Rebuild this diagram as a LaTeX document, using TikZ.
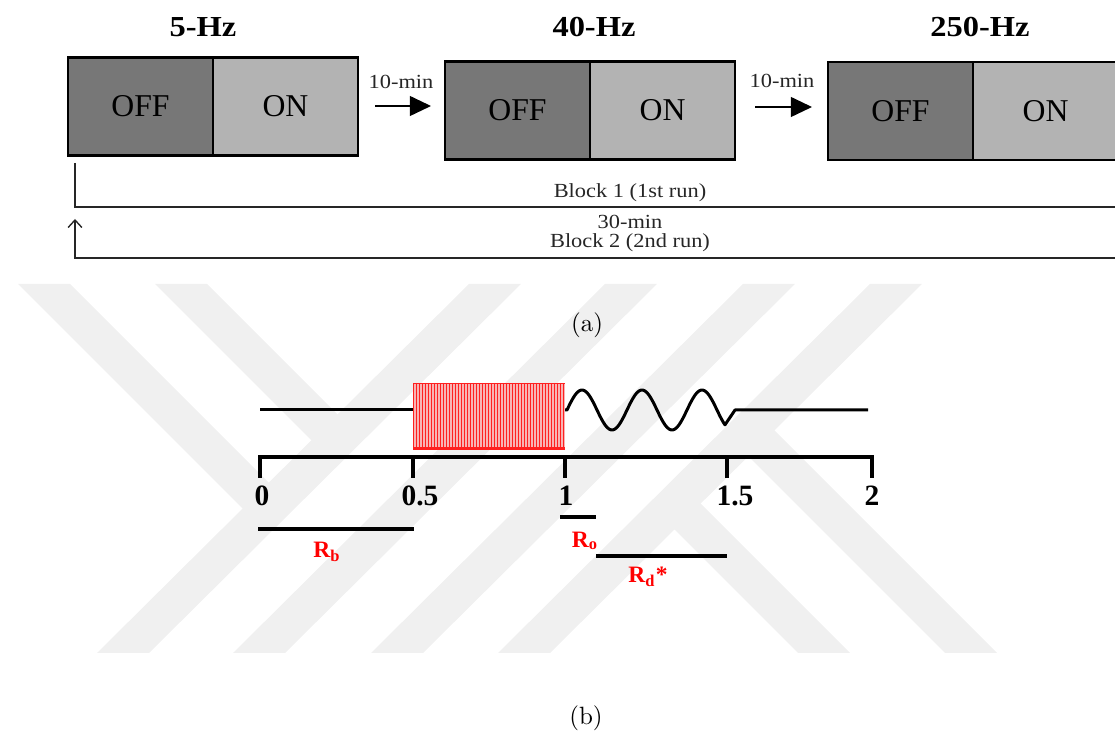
\documentclass[tikz,border=0pt]{standalone}
\usepackage{fontspec}
\newfontfamily\timesfont{Liberation Serif}
\newfontfamily\widetimes{Liberation Serif}[FakeStretch=1.12]
\usetikzlibrary{arrows.meta,positioning}

\definecolor{offgray}{HTML}{777777}
\definecolor{ongray}{HTML}{B3B3B3}
\definecolor{pulsered}{HTML}{FF2020}
\definecolor{pulsepink}{HTML}{F8B4B4}

\tikzset{
    offbox/.style={draw=black, line width=1.1pt, fill=offgray, inner sep=0pt, outer sep=0pt,
        minimum width=58pt, minimum height=39.2pt, font=\timesfont\fontsize{12.7}{14}\selectfont},
    onbox/.style={offbox, fill=ongray},
    hztitle/.style={font=\widetimes\bfseries\fontsize{11.6}{13}\selectfont},
    smalltxt/.style={text=black!85, inner sep=1pt, font=\widetimes\fontsize{8}{9}\selectfont},
    steparrow/.style={line width=0.6pt, -{Triangle[length=8.5pt,width=8pt]}},
    runline/.style={draw=black!85, line width=0.55pt},
    sig/.style={line width=1.2pt, line join=round},
    pulse/.style={draw=pulsered, line width=0.35pt},
    axisline/.style={line width=1.6pt},
    rbar/.style={line width=1.6pt},
    ticklbl/.style={anchor=north, inner sep=1pt, font=\timesfont\bfseries\fontsize{11.8}{13}\selectfont},
    rlbl/.style={text=red, inner sep=1pt, font=\timesfont\bfseries\fontsize{9.4}{11}\selectfont},
    wmark/.style={fill=black!6, draw=none},
    caplbl/.style={font=\fontsize{10}{12}\selectfont}
}

\begin{document}
\begin{tikzpicture}[x=0.4pt, y=-0.4pt]
    % --- canvas ---
    \useasboundingbox (0,0) rectangle (1115,731);
    \clip (0,0) rectangle (1115,731);

    % --- watermark in the background ---
    % long slanted bands
    \foreach \bl in {97,233,371,498}
        \fill[wmark] (\bl,653) -- ({\bl+52},653) -- ({\bl+424},284) -- ({\bl+372},284) -- cycle;
    % short bands, upper left
    \fill[wmark] (18,284) -- (70,284) -- (269.5,483.5) -- (243.5,509.5) -- cycle;
    \fill[wmark] (155,284) -- (207,284) -- (338,415) -- (312,441) -- cycle;
    % short bands, lower right
    \fill[wmark] (798,653) -- (850,653) -- (700,503) -- (674,529) -- cycle;
    \fill[wmark] (945,653) -- (997,653) -- (773.5,429.5) -- (747.5,455.5) -- cycle;

    % --- (a) OFF/ON blocks ---
    \node[offbox] (off1) at (140.5,106.5) {OFF};
    \node[onbox, right=0pt of off1] (on1) {ON};
    \node[offbox] (off2) at (517.5,110.5) {OFF};
    \node[onbox, right=0pt of off2] (on2) {ON};
    \node[offbox] (off3) at (900.5,111) {OFF};
    \node[onbox, right=0pt of off3] (on3) {ON};

    % frequency titles
    \node[hztitle] (hz1) at (203,27) {5-Hz};
    \node[hztitle] (hz2) at (594,27) {40-Hz};
    \node[hztitle] (hz3) at (980,27) {250-Hz};

    % 10-min pauses between the blocks
    \coordinate (gap1a) at (375,106);
    \coordinate (gap1b) at (431,106);
    \draw[steparrow] (gap1a) -- (gap1b);
    \node[smalltxt] (min1) at (401,82) {10-min};
    \coordinate (gap2a) at (755,107);
    \coordinate (gap2b) at (812,107);
    \draw[steparrow] (gap2a) -- (gap2b);
    \node[smalltxt] (min2) at (782,81) {10-min};

    % --- runs ---
    % Block 1
    \coordinate (run1a) at (75,163);
    \coordinate (run1b) at (75,207);
    \coordinate (run1c) at (1115,207);
    \draw[runline] (run1a) -- (run1b) -- (run1c);
    % Block 2, back to the start
    \coordinate (run2a) at (1115,258);
    \coordinate (run2b) at (75,258);
    \coordinate (run2c) at (75,219);
    \draw[runline, -{Straight Barb[length=3pt,width=5.5pt]}] (run2a) -- (run2b) -- (run2c);
    \node[smalltxt] (run1) at (630,193) {Block 1 (1st run)};
    \node[smalltxt] (rest) at (630,222) {30-min};
    \node[smalltxt] (run2) at (630,243) {Block 2 (2nd run)};

    \node[caplbl] (capa) at (587,325) {(a)};

    % --- (b) stimulus trace ---
    % baseline before the pulse train
    \draw[sig] (260,410) -- (413,410);
    % pulse train
    \fill[pulsepink] (413,383) rectangle (565,449);
    \foreach \i in {0,...,50}
        \draw[pulse] ({413+3*\i},383) -- ({413+3*\i},449);
    \draw[pulse] (413,383) -- (565,383);
    \draw[pulse, line width=1.2pt] (413,449) -- (565,449);
    % ringing after the train, then flat
    \draw[sig] (565,410) -- plot[smooth, domain=567:725, samples=80] (\x,{410-20*sin((\x-567)*6)})
        -- (735,410) -- (868,410);

    % --- time axis ---
    \draw[axisline] (260,478) -- (260,457) -- (872,457) -- (872,478);
    \foreach \t in {413,565,727}
        \draw[axisline] (\t,457) -- (\t,478);
    \foreach \lx/\lbl [count=\k] in {262/0, 420/0.5, 566/1, 735/1.5, 872/2}
        \node[ticklbl] (tick\k) at (\lx,483) {\lbl};

    % --- analysis windows ---
    \coordinate (rb0) at (258,529);
    \coordinate (rb1) at (414,529);
    \draw[rbar] (rb0) -- (rb1);
    \node[rlbl] (rblbl) at (327,552) {R\textsubscript{b}};
    \coordinate (ro0) at (560,517);
    \coordinate (ro1) at (596,517);
    \draw[rbar] (ro0) -- (ro1);
    \node[rlbl] (rolbl) at (585,541) {R\textsubscript{o}};
    \coordinate (rd0) at (596,556);
    \coordinate (rd1) at (727,556);
    \draw[rbar] (rd0) -- (rd1);
    \node[rlbl] (rdlbl) at (648,577) {R\textsubscript{d}*};

    \node[caplbl] (capb) at (586,718) {(b)};
\end{tikzpicture}
\end{document}
